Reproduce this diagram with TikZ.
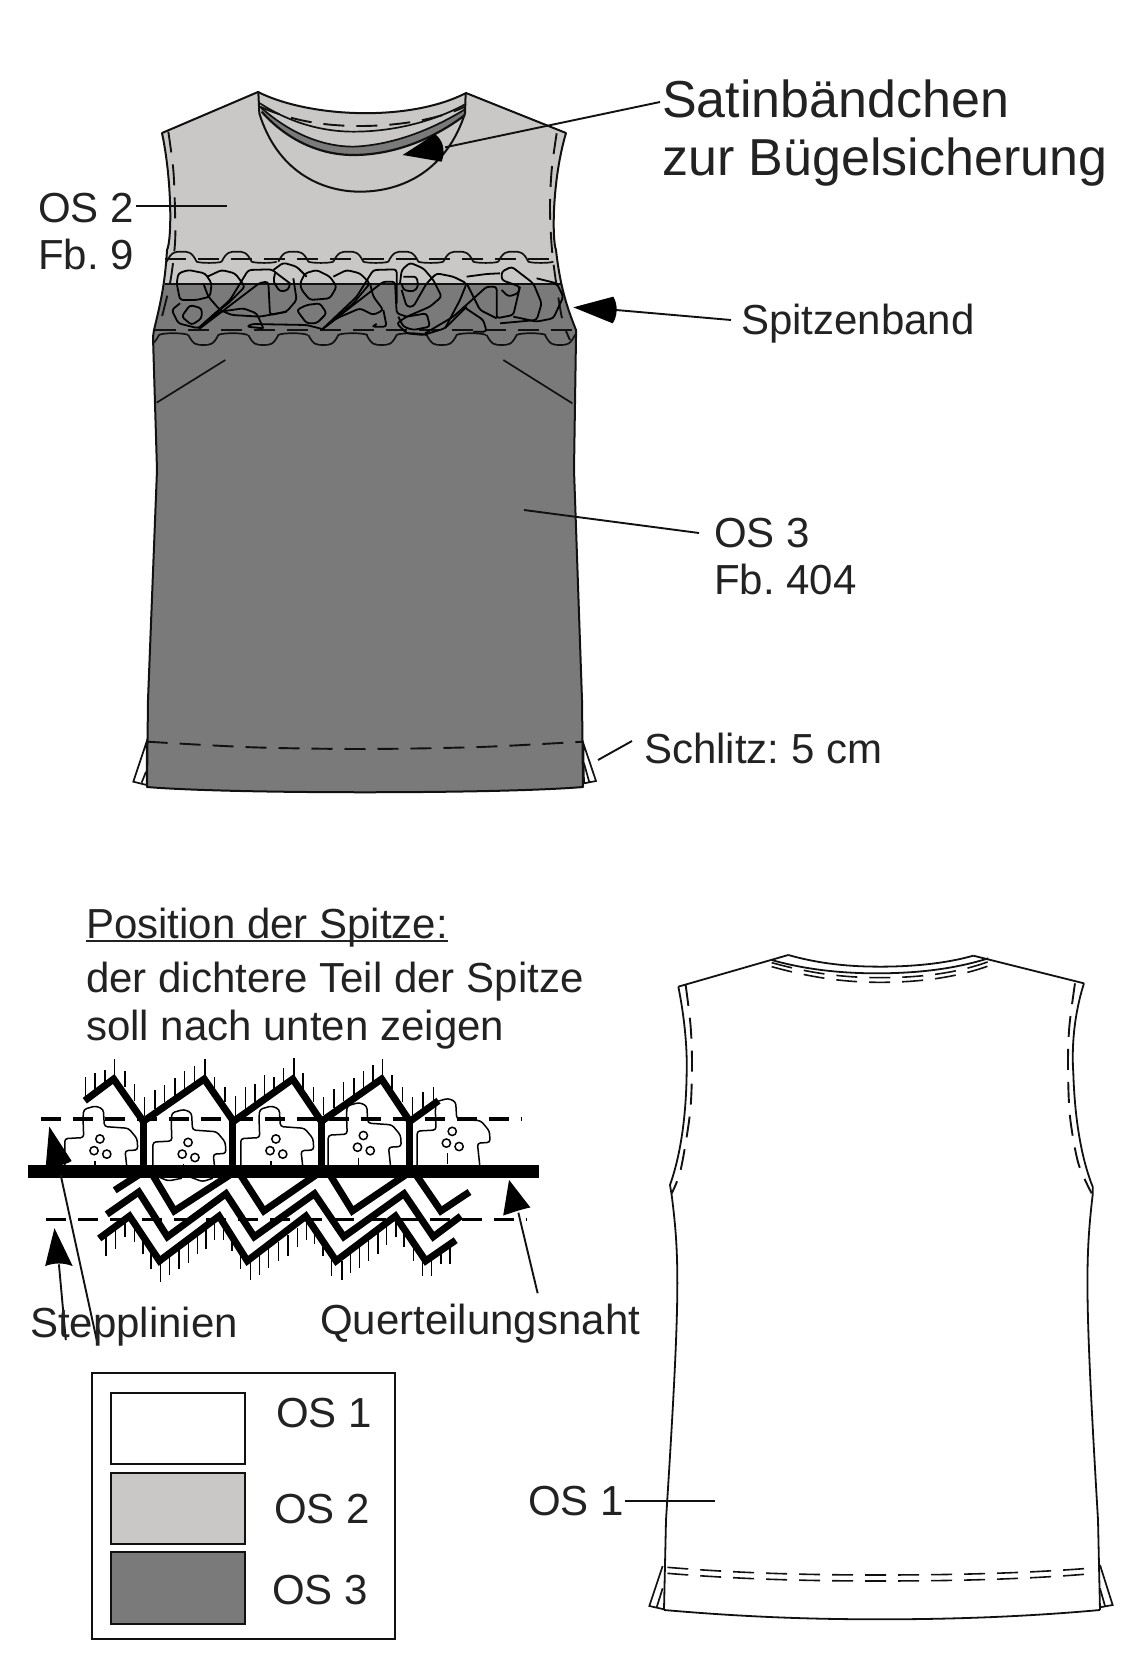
\documentclass[tikz,border=0pt]{standalone}
\usepackage{fontspec}
\setmainfont{Liberation Sans}
\frenchspacing
\definecolor{lightos}{HTML}{C9C8C6}
\definecolor{darkos}{HTML}{7A7A7A}
\definecolor{inktext}{HTML}{222222}
\definecolor{inkline}{HTML}{111111}
\tikzset{
  zonea/.style={x=0.33333pt,y=-0.33333pt,shift={(360,210)}},
  zoneb/.style={x=0.3444pt,y=-0.3444pt,shift={(58.07,3071)}},
  zonec/.style={x=0.33333pt,y=-0.33333pt,shift={(360,2100)}},
  zoned/.style={x=0.33333pt,y=-0.33333pt,shift={(1980,2820)}},
  zonee/.style={x=0.33333pt,y=-0.33333pt,shift={(1920,4560)}},
  bigtext/.style={anchor=base west,inner sep=0pt,text=inktext,font=\fontsize{52}{52}\selectfont},
  midtext/.style={anchor=base west,inner sep=0pt,text=inktext,font=\fontsize{42}{42}\selectfont},
  outline/.style={draw=inkline,line width=2pt,line join=round},
  backline/.style={draw=inkline,line width=1.8pt,line join=round},
  thinline/.style={draw=inkline,line width=1.7pt},
  leader/.style={draw=inkline,line width=1.9pt},
  stitch/.style={draw=inkline,line width=1.9pt,dash pattern=on 21pt off 12pt},
  backstitch/.style={draw=inkline,line width=1.6pt,dash pattern=on 21pt off 12pt},
  scribble/.style={draw=black,line width=1.8pt,line join=round,rounded corners=3pt},
  swatch/.style={draw=inkline,line width=2pt},
  zig/.style={draw=black,line width=7pt,line join=miter},
  hair/.style={draw=black,line width=1.4pt},
  flowerline/.style={draw=black,line width=1.5pt,rounded corners=3pt},
  headfill/.style={fill=black,draw=none},
  lacedash/.style={draw=black,line width=3.2pt,dash pattern=on 20pt off 12pt},
}
\begin{document}
\begin{tikzpicture}[x=1pt,y=-1pt]
\path[use as bounding box,fill=white] (0,0) rectangle (1146,1654);

% ---------- front garment ----------
\def\frontbody{(258,92) .. controls (310,118) and (410,122) .. (466,93)
  -- (566,133) .. controls (552,180) and (552,240) .. (556,250)
  .. controls (560,285) and (566,305) .. (576,330) -- (576,337)
  -- (574,470) -- (582,700) -- (583,787)
  .. controls (500,794) and (230,794) .. (147,787)
  -- (148,700) -- (157,470) -- (153,337) -- (154,330)
  .. controls (160,305) and (165,285) .. (167,250)
  .. controls (172,240) and (172,180) .. (162,133) -- cycle}
\fill[lightos] \frontbody;
\begin{scope}
  \clip \frontbody;
  \fill[darkos] (100,284) rectangle (640,800);
\end{scope}
\draw[outline] \frontbody;
\draw[thinline] (165,284) -- (562,284);

% slits
\begin{scope}[zonec]
  \draw[thinline,fill=white] (80,125) -- (40,245) -- (80,255) -- cycle;
  \draw[thinline] (78,215) -- (65,248);
  \draw[thinline,fill=white] (1390,130) -- (1428,243) -- (1392,250) -- cycle;
  \draw[thinline] (1392,190) -- (1408,247);
  \draw[stitch] plot[smooth] coordinates {(80,125) (400,142) (735,147) (1080,141) (1390,125)};
\end{scope}

\begin{scope}[zonea]
  % neck
  \fill[darkos] (420,110) .. controls (520,200) and (620,230) .. (700,230)
     .. controls (830,225) and (950,170) .. (1035,118)
     -- (1035,135) .. controls (950,200) and (830,255) .. (700,255)
     .. controls (600,255) and (500,210) .. (425,125) -- cycle;
  \draw[thinline] (420,100) .. controls (520,165) and (620,185) .. (700,185)
     .. controls (830,185) and (950,150) .. (1037,102);
  \draw[stitch] (420,110) .. controls (520,155) and (620,168) .. (720,168)
     .. controls (830,168) and (950,150) .. (1035,110);
  \draw[thinline] (420,110) .. controls (520,200) and (620,230) .. (700,230)
     .. controls (830,225) and (950,170) .. (1035,118);
  \draw[draw=inkline,line width=2.2pt] (425,125) .. controls (500,210) and (600,255) .. (700,255)
     .. controls (830,255) and (950,200) .. (1035,135);
  \draw[outline] (415,66) -- (418,130) .. controls (470,300) and (600,365) .. (720,365)
     .. controls (850,365) and (980,300) .. (1035,130) -- (1037,70);
  % armhole stitching
  \draw[stitch] plot[smooth] coordinates {(145,185) (160,300) (165,420) (165,520) (150,640) (118,770)};
  \draw[stitch] plot[smooth] coordinates {(1310,190) (1295,300) (1290,420) (1298,560) (1325,740) (1350,810)};
  % darts
  \draw[thinline] (110,998) -- (316,870);
  \draw[thinline] (1150,870) -- (1357,1000);
\end{scope}
% scallops, kept inside the garment
\begin{scope}
  \clip \frontbody;
  \begin{scope}[zonea]
  \foreach \c in {185,350,520,685,850,1015,1180}{
    \draw[thinline] (\c-45,575) .. controls (\c-30,545) and (\c-20,545) .. (\c,545)
       .. controls (\c+20,545) and (\c+30,545) .. (\c+45,575)
       .. controls (\c+55,580) and (\c+110,580) .. (\c+120,575);
  }
  \foreach \c in {72,250,430,610,785,965,1145,1320}{
    \draw[thinline] (\c-45,795) .. controls (\c-30,825) and (\c-20,825) .. (\c,825)
       .. controls (\c+20,825) and (\c+30,825) .. (\c+45,795)
       .. controls (\c+55,788) and (\c+120,788) .. (\c+133,795);
  }
  \end{scope}
\end{scope}
\begin{scope}[zonea]
  \draw[stitch] (135,568) -- (1305,568);
  \draw[stitch] (105,780) -- (1368,780);
  % lace scribbles
  \begin{scope}[scribble]
  \draw (170,640) -- (175,610) -- (205,600) -- (255,610) -- (275,640) -- (270,680) -- (230,690) -- (180,690) -- cycle;
  \draw (262,620) -- (305,600) -- (345,610) -- (375,650) -- (325,700) -- (285,730) -- (235,775);
  \draw (250,640) -- (265,680) -- (300,720) -- (335,735) -- (420,740) -- (500,725);
  \draw (180,700) -- (155,720) -- (175,760) -- (235,775) -- (300,725) -- (370,715) -- (410,730) -- (430,775);
  \draw (185,740) -- (210,705) -- (245,715) -- (245,745) -- (215,765) -- cycle;
  \draw (235,775) -- (330,690) -- (385,600) -- (455,598) -- (470,610) -- (510,640);
  \draw (240,775) -- (420,638) -- (445,635) -- (450,735) -- (500,725) -- (530,690) -- (520,625);
  \draw (460,600) -- (490,578) -- (530,590) -- (560,620);
  \draw (465,610) -- (460,635) -- (480,665) -- (505,660) -- (510,640);
  \draw (540,640) -- (555,610) -- (590,600) -- (630,620) -- (650,650) -- (630,685) -- (570,690) -- (545,660) -- cycle;
  \draw (530,720) -- (560,705) -- (600,700) -- (620,730) -- (590,760) -- (560,760) -- cycle;
  \draw (610,775) -- (710,680) -- (760,600) -- (830,598) -- (830,700);
  \draw (610,775) -- (790,635) -- (825,635) -- (830,730) -- (860,740);
  \draw (640,620) -- (680,600) -- (720,610) -- (750,640) -- (700,700) -- (610,775);
  \draw (750,640) -- (760,680) -- (790,720) -- (760,735) -- (720,715) -- (650,745) -- (610,775);
  \draw (790,720) -- (800,770) -- (755,770) -- (770,762);
  \draw (430,775) -- (380,770) -- (395,762) -- (560,765) -- (610,778);
  \draw (840,640) -- (845,600) -- (870,578) -- (910,595) -- (940,630) -- (965,680) -- (930,710) -- (860,740) -- (830,760) -- (860,790) -- (910,795) -- (975,775) -- (1040,710);
  \draw (850,620) -- (890,620) -- (895,650) -- (880,665) -- (850,660) -- (845,640);
  \draw (845,660) -- (860,710) -- (880,710) -- (920,640) -- (950,610) -- (1000,620) -- (1040,640) -- (1020,690) -- (975,775);
  \draw (915,790) -- (1000,740) -- (1100,650) -- (1130,650) -- (1130,745) -- (1180,735) -- (1200,650) -- (1145,630) -- (1145,605) -- (1175,590) -- (1240,640) -- (1265,700) -- (1250,750) -- (1140,760);
  \draw (1040,620) -- (1100,612) -- (1140,610);
  \draw (1040,640) -- (1080,720) -- (1130,745);
  \draw (1145,660) -- (1165,680) -- (1195,670) -- (1200,650);
  \draw (1250,625) -- (1310,640) -- (1330,680) -- (1300,745) -- (1250,755) -- (1180,740);
  \draw (1060,785) -- (1100,785) -- (1090,750) -- (1030,710);
  \draw (860,740) -- (920,730) -- (930,770) -- (880,780) -- (850,770) -- (835,740);
  \end{scope}
  % arrow heads
  \fill[headfill] (848,255) -- (945,192) .. controls (968,210) and (978,240) .. (965,275) -- cycle;
  \fill[headfill] (1360,712) -- (1480,680) .. controls (1495,705) and (1492,740) .. (1478,760) -- cycle;
  \coordinate (satinend) at (975,232);
  \coordinate (spitzend) at (1488,720);
  \coordinate (ostwoa) at (48,408);
  \coordinate (ostwob) at (320,408);
\end{scope}

% front labels and leaders
\node[bigtext] (satina) at (662,117) {Satinbändchen};
\node[bigtext] (satinb) at (662,175) {zur Bügelsicherung};
\node[midtext] (ostwo) at (38,222) {OS 2};
\node[midtext] (fbnine) at (38,269) {Fb. 9};
\node[midtext] (spitzen) at (741,334) {Spitzenband};
\node[midtext] (osthree) at (714,547) {OS 3};
\node[midtext] (fbfour) at (714,594) {Fb. 404};
\node[midtext] (schlitz) at (644,763) {Schlitz: 5 cm};
\coordinate (satinstart) at (660,102);
\coordinate (spitzstart) at (731,320);
\coordinate (osthreea) at (699,533);
\coordinate (osthreeb) at (524,510);
\coordinate (schlitza) at (632,741);
\coordinate (schlitzb) at (598,760);
\draw[leader] (satinstart) -- (satinend);
\draw[leader] (spitzstart) -- (spitzend);
\draw[leader] (ostwoa) -- (ostwob);
\draw[leader] (osthreea) -- (osthreeb);
\draw[leader] (schlitza) -- (schlitzb);

% ---------- lace detail ----------
\node[midtext] (posa) at (86,938) {Position der Spitze:};
\draw[draw=inktext,line width=1.5pt] ([yshift=-3pt]posa.base west) -- ([yshift=-3pt]posa.base east);
\node[midtext] (posb) at (86,992) {der dichtere Teil der Spitze};
\node[midtext] (posc) at (86,1040) {soll nach unten zeigen};
\begin{scope}[zoneb]
  \foreach \dx/\dy in {0/0,256/10,511/0,765/-10,1023/-22}{
    \begin{scope}[shift={(\dx,\dy)}]
      \draw[flowerline] (130,335) -- (130,235) -- (185,232) -- (183,175) -- (185,150) -- (220,140) -- (242,150) -- (245,200) -- (315,205) -- (340,235) -- (342,268) -- (305,270) -- (312,335);
      \draw[hair] (218,300) -- (218,330);
      \draw[line width=1.5pt] (232,236) circle[radius=12];
      \draw[line width=1.5pt] (215,270) circle[radius=12];
      \draw[line width=1.5pt] (252,280) circle[radius=12];
    \end{scope}
  }
  \draw[flowerline] (400,345) -- (430,358) -- (470,350);
  \draw[flowerline] (490,345) -- (530,360) -- (560,350);
  \foreach \x/\a/\b in {190/110/55,218/90/45,247/70/35,275/55/5,305/85/40,333/125/75,362/170/115,392/150/95,420/130/80,450/110/60,478/95/40,507/75/25,537/55/5,565/90/55,595/130/85,625/170/110,655/150/85,682/130/75,710/115/50,738/95/55,765/80/30,795/55/2,822/90/45,852/130/85,882/165/115,912/145/90,940/125/70,970/110/60,997/90/40,1025/75/20,1052/55/5,1080/90/50,1110/130/85,1140/165/115,1170/150/100,1200/130/85}{
    \draw[hair] (\x,\a) -- (\x,\b);
  }
  \foreach \x/\a/\b in {250/510/575,277/495/555,305/470/520,333/480/535,357/520/570,380/555/615,408/590/650,434/570/632,462/550/615,490/530/595,515/510/570,540/495/555,565/470/530,590/480/530,615/510/560,640/555/615,670/590/645,695/575/630,722/555/610,750/535/590,778/515/575,805/495/550,832/470/530,855/490/540,880/520/575,905/565/635,935/590/645,960/570/625,985/550/610,1012/530/590,1040/510/570,1065/490/545,1092/465/520,1115/490/550,1143/530/590,1168/580/635,1195/575/635,1222/555/600,1248/540/600}{
    \draw[hair] (\x,\a) -- (\x,\b);
  }
  \draw[lacedash] (60,178) -- (1455,178);
  \draw[lacedash] (75,470) -- (1470,470);
  \draw[zig] (188,125) -- (272,62) -- (358,185) -- (535,62) -- (620,185) -- (792,62) -- (875,185) -- (1050,62) -- (1132,185) -- (1215,125);
  \foreach \x in {358,617,875,1132}{ \draw[zig] (\x,185) -- (\x,330); }
  \draw[zig] (275,385) -- (345,340);
  \draw[zig] (385,340) -- (448,445) -- (610,340);
  \draw[zig] (640,340) -- (708,445) -- (860,340);
  \draw[zig] (900,340) -- (965,445) -- (1120,340);
  \draw[zig] (1150,340) -- (1222,445) -- (1305,390);
  \draw[zig] (252,455) -- (345,390) -- (428,520) -- (598,395) -- (680,520) -- (855,395) -- (940,520) -- (1115,395) -- (1200,520) -- (1280,460);
  \draw[zig] (230,525) -- (318,460) -- (405,590) -- (578,460) -- (660,590) -- (830,460) -- (918,590) -- (1090,460) -- (1178,590) -- (1265,530);
  \fill[black] (24,313) rectangle (1508,348);
  % arrows
  \fill[headfill] (85,200) -- (150,300) .. controls (125,315) and (100,315) .. (75,313) -- cycle;
  \fill[headfill] (100,495) -- (153,605) .. controls (125,595) and (100,595) .. (73,605) -- cycle;
  \fill[headfill] (1420,355) -- (1482,435) .. controls (1455,440) and (1430,450) .. (1403,458) -- cycle;
  \coordinate (stepa) at (118,340);
  \coordinate (stepab) at (225,830);
  \coordinate (stepb) at (113,600);
  \coordinate (stepbb) at (133,820);
  \coordinate (querb) at (1447,450);
  \coordinate (querbb) at (1503,684);
\end{scope}
\draw[leader] (stepab) -- (stepa);
\draw[leader] (stepbb) -- (stepb);
\draw[leader] (querbb) -- (querb);
\node[midtext] (stepp) at (30,1337) {Stepplinien};
\node[midtext] (quer) at (320,1334) {Querteilungsnaht};

% ---------- legend ----------
\node[draw=inkline,line width=2pt,inner sep=0pt,minimum width=303pt,minimum height=266pt,anchor=north west] (legend) at (90.5,1371.5) {};
\node[swatch,fill=white,inner sep=0pt,minimum width=134pt,minimum height=71pt,anchor=north west] (swa) at (109.5,1391.5) {};
\node[swatch,fill=lightos,inner sep=0pt,minimum width=134pt,minimum height=71pt,anchor=north west] (swb) at (110,1472) {};
\node[swatch,fill=darkos,inner sep=0pt,minimum width=134pt,minimum height=72pt,anchor=north west] (swc) at (109.5,1551) {};
\node[midtext] (lega) at (276,1427.5) {OS 1};
\node[midtext] (legb) at (274,1523.5) {OS 2};
\node[midtext] (legc) at (272,1604.5) {OS 3};

% ---------- back garment ----------
\begin{scope}[zoned]
  \draw[backline] (55,140) -- (385,45);
  \draw[backline] (940,47) -- (1272,130);
  \draw[backline] (385,45) .. controls (480,72) and (570,80) .. (660,80) .. controls (760,80) and (860,70) .. (940,47);
  \draw[backline] (335,60) .. controls (440,90) and (550,100) .. (650,100) .. controls (780,100) and (890,85) .. (985,55);
  \draw[backline] (1272,130) .. controls (1240,230) and (1235,330) .. (1240,400)
     .. controls (1245,560) and (1270,670) .. (1298,740) -- (1298,765);
  \draw[backline] (55,140) .. controls (75,240) and (82,330) .. (80,400)
     .. controls (78,540) and (60,650) .. (30,735) -- (35,765);
  \draw[stitch] plot[smooth] coordinates {(77,135) (92,260) (96,380) (90,520) (62,690) (35,760)};
  \draw[stitch] plot[smooth] coordinates {(1245,130) (1228,260) (1224,380) (1230,530) (1255,670) (1295,760)};
  \draw[backstitch] (335,68) .. controls (450,100) and (550,113) .. (660,113) .. controls (780,113) and (890,100) .. (985,65);
  \draw[backstitch] (335,80) .. controls (450,112) and (550,127) .. (660,127) .. controls (780,127) and (890,112) .. (985,78);
  \coordinate (backla) at (35,765);
  \coordinate (backra) at (1298,765);
\end{scope}
\begin{scope}[zonee]
  \coordinate (backlb) at (72,270);
  \coordinate (backrb) at (1380,270);
  \draw[thinline] (68,138) -- (28,258) -- (72,268);
  \draw[thinline] (68,205) -- (50,262);
  \draw[thinline] (1380,135) -- (1418,255) -- (1380,262);
  \draw[thinline] (1380,205) -- (1395,258);
  \draw[backline] (72,270) .. controls (300,290) and (500,298) .. (720,298) .. controls (940,298) and (1160,290) .. (1380,270);
  \draw[backstitch] (82,142) .. controls (300,160) and (500,165) .. (720,165) .. controls (940,165) and (1150,160) .. (1345,145);
  \draw[backstitch] (82,160) .. controls (300,178) and (500,183) .. (720,183) .. controls (940,183) and (1150,178) .. (1345,162);
\end{scope}
\draw[backline] (backla) .. controls (680,1260) and (680,1300) .. (666,1520) -- (backlb);
\draw[backline] (backra) .. controls (1085,1260) and (1085,1300) .. (1098,1520) -- (backrb);
\node[midtext] (osone) at (528,1515) {OS 1};
\coordinate (osonea) at (625,1501);
\coordinate (osoneb) at (715,1501);
\draw[leader] (osonea) -- (osoneb);
\end{tikzpicture}
\end{document}
